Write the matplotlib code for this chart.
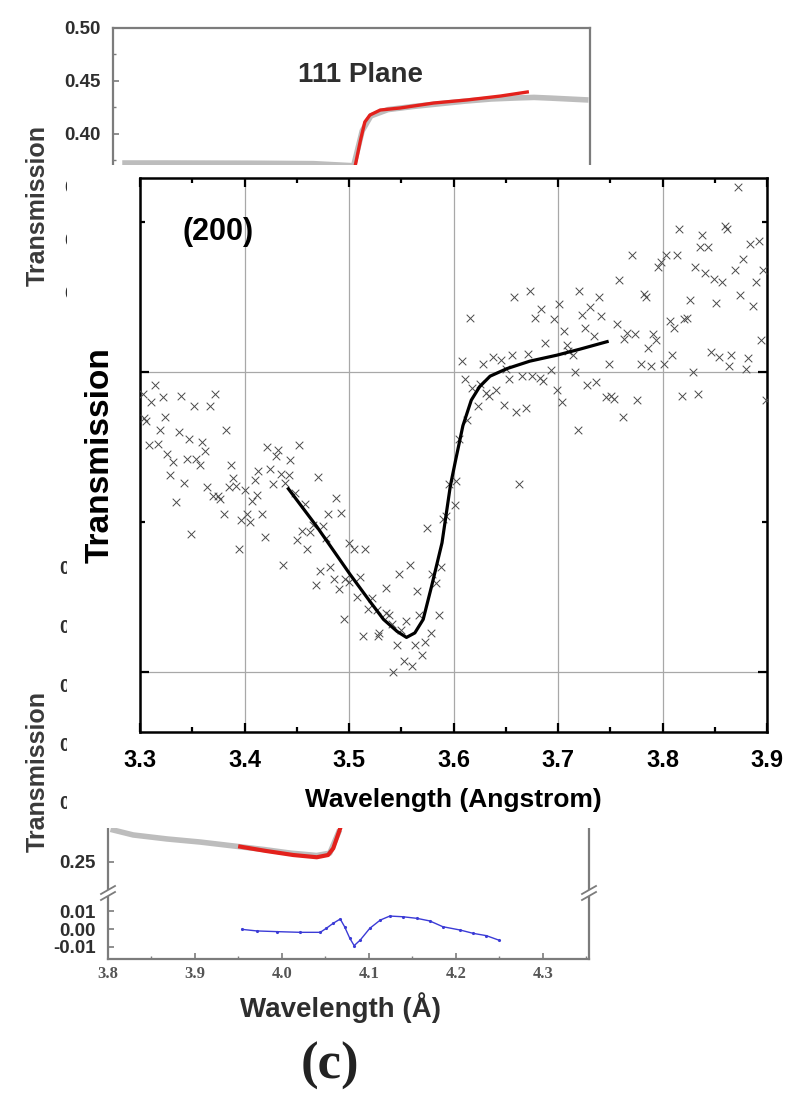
import matplotlib
matplotlib.use("Agg")
import matplotlib.pyplot as plt
from matplotlib.patches import Rectangle
from matplotlib.lines import Line2D
from matplotlib.ticker import MultipleLocator, NullFormatter

plt.rcParams['font.family'] = ['Liberation Sans', 'DejaVu Sans']

# ---------------- (200) reflection: measured points and fitted edge ----------------
wl_200 = [3.314, 3.303, 3.311, 3.322, 3.339, 3.352, 3.367, 3.372, 3.304, 3.306, 3.324, 3.319, 3.337,
          3.347, 3.359, 3.382, 3.309, 3.317, 3.326, 3.345, 3.354, 3.362, 3.422, 3.432, 3.452, 3.430, 3.444,
          3.332, 3.357, 3.329, 3.342, 3.364, 3.370, 3.375, 3.377, 3.387, 3.389, 3.385, 3.392, 3.400, 3.410,
          3.413, 3.424,
          3.435, 3.443, 3.439, 3.427, 3.412, 3.407, 3.417, 3.402, 3.397, 3.405, 3.380, 3.334, 3.349, 3.395,
          3.420, 3.437,
          3.470, 3.488, 3.492, 3.480, 3.475, 3.466, 3.463, 3.455, 3.450, 3.460, 3.458, 3.448, 3.478, 3.500,
          3.505, 3.515, 3.496, 3.500, 3.511, 3.482,
          3.472, 3.486, 3.490, 3.468, 3.508, 3.522, 3.518, 3.527, 3.535, 3.538, 3.541, 3.535, 3.548, 3.558,
          3.555, 3.550, 3.546, 3.563, 3.567, 3.565,
          3.575, 3.579, 3.588, 3.583, 3.586, 3.578, 3.573, 3.570, 3.560, 3.553, 3.542, 3.513, 3.528, 3.529,
          3.495, 3.593, 3.590, 3.601, 3.596, 3.602,
          3.663,
          3.872, 3.860, 3.862, 3.816, 3.838, 3.836, 3.844, 3.884, 3.892, 3.771, 3.803, 3.814, 3.799, 3.796,
          3.831, 3.841, 3.849, 3.857, 3.877, 3.869, 3.889, 3.896,
          3.758, 3.782, 3.784, 3.826, 3.851, 3.874, 3.887, 3.673, 3.658, 3.720, 3.739, 3.701, 3.731, 3.684,
          3.678, 3.696, 3.723, 3.741,
          3.616, 3.706, 3.726, 3.756, 3.734, 3.766, 3.763, 3.774, 3.791, 3.794, 3.786, 3.807, 3.811, 3.821,
          3.823, 3.894,
          3.688, 3.709, 3.710, 3.714, 3.846, 3.854, 3.866, 3.864, 3.882, 3.880, 3.809, 3.801, 3.789, 3.779,
          3.749, 3.829,
          3.608, 3.628, 3.638, 3.645, 3.656, 3.671, 3.650, 3.666, 3.675, 3.683, 3.686, 3.693, 3.653, 3.716,
          3.611, 3.618, 3.625, 3.631, 3.634, 3.641, 3.623, 3.648, 3.660, 3.669, 3.699, 3.704, 3.728, 3.736,
          3.746, 3.751, 3.754, 3.776, 3.762, 3.719, 3.819, 3.834, 3.899, 3.613, 3.605]
tr_200 = [0.8591, 0.8585, 0.8580, 0.8583, 0.8584, 0.8577, 0.8577, 0.8585, 0.8569, 0.8567, 0.8570, 0.8561,
          0.8560, 0.8555, 0.8553, 0.8561, 0.8551, 0.8552, 0.8545, 0.8542, 0.8542, 0.8547, 0.8550, 0.8548,
          0.8551, 0.8544, 0.8541,
          0.8540, 0.8538, 0.8531, 0.8526, 0.8523, 0.8517, 0.8517, 0.8515, 0.8538, 0.8529, 0.8523, 0.8524,
          0.8521, 0.8528, 0.8534, 0.8535,
          0.8532, 0.8531, 0.8526, 0.8525, 0.8518, 0.8514, 0.8505, 0.8505, 0.8501, 0.8500, 0.8505, 0.8513,
          0.8492, 0.8482, 0.8490, 0.8471,
          0.8530, 0.8516, 0.8506, 0.8505, 0.8497, 0.8498, 0.8493, 0.8494, 0.8488, 0.8482, 0.8512, 0.8519,
          0.8489, 0.8486, 0.8482, 0.8482, 0.8462, 0.8460, 0.8463, 0.8470,
          0.8467, 0.8462, 0.8455, 0.8458, 0.8450, 0.8449, 0.8442, 0.8441, 0.8439, 0.8438, 0.8432, 0.8456,
          0.8465, 0.8471, 0.8434, 0.8428, 0.8418, 0.8418, 0.8438, 0.8454,
          0.8496, 0.8465, 0.8470, 0.8459, 0.8438, 0.8426, 0.8420, 0.8411, 0.8404, 0.8407, 0.8400, 0.8424,
          0.8424, 0.8426, 0.8435, 0.8504, 0.8502, 0.8511, 0.8525, 0.8527,
          0.8525,
          0.8723, 0.8697, 0.8695, 0.8695, 0.8691, 0.8683, 0.8683, 0.8685, 0.8687, 0.8678, 0.8678, 0.8678,
          0.8673, 0.8670, 0.8670, 0.8666, 0.8662, 0.8660, 0.8675, 0.8668, 0.8660, 0.8668,
          0.8661, 0.8652, 0.8650, 0.8648, 0.8646, 0.8651, 0.8644, 0.8654, 0.8650, 0.8654, 0.8650, 0.8645,
          0.8643, 0.8642, 0.8636, 0.8635, 0.8638, 0.8637,
          0.8636, 0.8627, 0.8629, 0.8632, 0.8624, 0.8626, 0.8622, 0.8625, 0.8625, 0.8621, 0.8616, 0.8634,
          0.8629, 0.8635, 0.8636, 0.8621,
          0.8619, 0.8618, 0.8614, 0.8611, 0.8613, 0.8610, 0.8611, 0.8604, 0.8609, 0.8602, 0.8611, 0.8605,
          0.8604, 0.8605, 0.8605, 0.8600,
          0.8607, 0.8605, 0.8610, 0.8608, 0.8611, 0.8612, 0.8602, 0.8597, 0.8597, 0.8596, 0.8594, 0.8601,
          0.8595, 0.8600,
          0.8595, 0.8589, 0.8592, 0.8586, 0.8584, 0.8588, 0.8577, 0.8578, 0.8573, 0.8576, 0.8588, 0.8580,
          0.8591, 0.8593, 0.8583, 0.8584, 0.8582, 0.8581, 0.8570, 0.8561, 0.8584, 0.8585, 0.8581, 0.8568,
          0.8555]

fit_wl_200 = [3.442, 3.469, 3.501, 3.520, 3.533, 3.546, 3.555, 3.563, 3.571, 3.579, 3.589, 3.597,
              3.602, 3.609, 3.617, 3.625, 3.635, 3.651, 3.673, 3.699, 3.721, 3.747]
fit_tr_200 = [0.8522, 0.8497, 0.8465, 0.8447, 0.8435, 0.8427, 0.8423, 0.8426, 0.8435, 0.8457, 0.8486,
              0.8524, 0.8541, 0.8564, 0.8581, 0.8590, 0.8597, 0.8602, 0.8607, 0.8611, 0.8615, 0.8620]

xticks_200 = [3.3, 3.4, 3.5, 3.6, 3.7, 3.8, 3.9]
xtick_labels_200 = ['3.3', '3.4', '3.5', '3.6', '3.7', '3.8', '3.9']

# ---------------- 111 plane panel ----------------
wl_111_obs = [3.814, 3.860, 3.910, 3.960, 4.000, 4.033, 4.080, 4.090, 4.100, 4.120, 4.150, 4.180,
              4.210, 4.240, 4.270, 4.290, 4.310, 4.330, 4.350]
tr_111_obs = [0.3726, 0.3726, 0.3725, 0.3724, 0.3722, 0.3720, 0.3700, 0.4030, 0.4170, 0.4230, 0.4260,
              0.4285, 0.4310, 0.4330, 0.4340, 0.4345, 0.4338, 0.4330, 0.4322]
wl_111_fit = [4.076, 4.082, 4.088, 4.093, 4.099, 4.111, 4.134, 4.173, 4.212, 4.251, 4.282]
tr_111_fit = [0.3450, 0.3708, 0.3943, 0.4113, 0.4179, 0.4226, 0.4245, 0.4292, 0.4321, 0.4358, 0.4396]

# ---------------- panel (c) ----------------
wl_c_obs = [3.806, 3.829, 3.868, 3.906, 3.944, 3.980, 4.010, 4.040, 4.055, 4.065]
tr_c_obs = [0.2771, 0.2729, 0.2695, 0.2669, 0.2636, 0.2605, 0.2575, 0.2555, 0.2575, 0.2750]
wl_c_fit = [3.952, 3.982, 4.013, 4.040, 4.053, 4.059, 4.063, 4.067, 4.070]
tr_c_fit = [0.2630, 0.2593, 0.2559, 0.2540, 0.2559, 0.2616, 0.2701, 0.2786, 0.2900]
wl_c_res = [3.954, 3.971, 3.994, 4.021, 4.044, 4.051, 4.059, 4.067, 4.072, 4.078, 4.083, 4.090,
            4.101, 4.113, 4.124, 4.139, 4.155, 4.170, 4.185, 4.205, 4.220, 4.235, 4.249]
res_c = [-0.0002, -0.0011, -0.0015, -0.0019, -0.0019, 0.0004, 0.0033, 0.0057, 0.0013, -0.0053,
         -0.0095, -0.0063, 0.0004, 0.0051, 0.0074, 0.0070, 0.0061, 0.0046, 0.0013, -0.0006, -0.0025,
         -0.0038, -0.0063]

ticks_tr = [0.25, 0.30, 0.35, 0.40, 0.45, 0.50]
ticks_res = [-0.01, 0.00, 0.01]
labels_res = ['-0.01', '0.00', '0.01']
xticks_c = [3.8, 3.9, 4.0, 4.1, 4.2, 4.3]

W, H = 787, 1094
fig = plt.figure(figsize=(W / 100, H / 100), dpi=100)


def frame(x0, y0, x1, y1):
    return [x0 / W, 1 - y1 / H, (x1 - x0) / W, (y1 - y0) / H]


TXT = '#2e2e2e'
AXC = '#7c7c7c'
CARD_LEFT = 67   # left edge of the white card carrying the (200) plot


def style_back(ax):
    for s in ax.spines.values():
        s.set_color(AXC)
        s.set_linewidth(1.6)
    ax.tick_params(which='both', direction='in', color=AXC, labelcolor=TXT, pad=9)
    ax.tick_params(which='major', length=4, width=1.2)
    ax.tick_params(which='minor', length=2.5, width=1.0)


def tr_axis(ax, ticks, labels, size=13.5):
    ax.set_yticks(ticks, labels=labels, fontweight='bold', fontsize=size)


# ---- top panel: 111 plane ----
ax_t = fig.add_axes(frame(113, 28, 590, 330))
ax_t.plot(wl_111_obs, tr_111_obs, color='#bdbdbd', lw=4)
ax_t.plot(wl_111_fit, tr_111_fit, color='#e3211c', lw=2.4)
ax_t.set_xlim(3.8, 4.355)
ax_t.set_ylim(0.215, 0.50)
style_back(ax_t)
tr_axis(ax_t, ticks_tr, ['%.2f' % v for v in ticks_tr])
ax_t.yaxis.set_minor_locator(MultipleLocator(0.025))
ax_t.set_xticks([])
ax_t.spines['bottom'].set_visible(False)
ax_t.text(0.518, 0.844, '111 Plane', transform=ax_t.transAxes, ha='center', va='center',
          fontsize=20, fontweight='bold', color=TXT)

fig.text(38 / W, 1 - 205 / H, 'Transmission', rotation=90, ha='center', va='center',
         fontsize=18, fontweight='bold', color='#3a3a3a')

# ---- bottom panel (c) ----
ax_b = fig.add_axes(frame(108, 560, 589, 893))
ax_b.plot(wl_c_obs, tr_c_obs, color='#bdbdbd', lw=4)
ax_b.plot(wl_c_fit, tr_c_fit, color='#e3211c', lw=3)
ax_b.set_xlim(3.8, 4.353)
ax_b.set_ylim(0.2237, 0.506)
style_back(ax_b)
tr_axis(ax_b, ticks_tr, ['%.2f' % v for v in ticks_tr])
ax_b.set_xticks([])
ax_b.spines['bottom'].set_visible(False)

ax_r = fig.add_axes(frame(108, 893, 589, 959))
ax_r.plot(wl_c_res, res_c, color='#3b3bd6', lw=1.0, marker='.', ms=2.5)
ax_r.set_xlim(3.8, 4.353)
ax_r.set_ylim(-0.01714, 0.02057)
style_back(ax_r)
tr_axis(ax_r, ticks_res, labels_res)
ax_r.set_xticks(xticks_c, labels=['%.1f' % v for v in xticks_c], family='Liberation Serif',
                fontweight='bold', fontsize=12, color='#555555')
ax_r.xaxis.set_minor_locator(MultipleLocator(0.05))
ax_r.tick_params(axis='x', pad=5)
ax_r.spines['top'].set_visible(False)
ax_r.set_xlabel('Wavelength (Å)', fontsize=20, fontweight='bold', color=TXT)
ax_r.xaxis.set_label_coords((340 - 108) / 481, -(1008 - 959) / 66)
ax_r.xaxis.label.set_va('center')

fig.text(38 / W, 1 - 771 / H, 'Transmission', rotation=90, ha='center', va='center',
         fontsize=18, fontweight='bold', color='#3a3a3a')
fig.text(330 / W, 1 - 1066 / H, '(c)', ha='center', va='center', family='Liberation Serif',
         fontsize=38, fontweight='bold', color='#222222')


def axis_break(x, y):
    fig.add_artist(Rectangle(((x - 7) / W, 1 - (y + 3) / H), 14 / W, 6 / H,
                             transform=fig.transFigure, facecolor='white', edgecolor='none', zorder=3))
    for dy in (-3, 3):
        fig.add_artist(Line2D([(x - 7) / W, (x + 7) / W], [1 - (y + dy + 4) / H, 1 - (y + dy - 4) / H],
                              transform=fig.transFigure, color=AXC, lw=1.3, zorder=4))


axis_break(108, 893)
axis_break(589, 893)

# ---- (200) plot on a white card in front ----
fig.add_artist(Rectangle((CARD_LEFT / W, 1 - 828 / H), (W - CARD_LEFT) / W, 663 / H,
                         transform=fig.transFigure, facecolor='white', edgecolor='none', zorder=5))

ax = fig.add_axes(frame(140, 178, 767, 732))
ax.set_zorder(6)
ax.set_axisbelow(True)
ax.grid(True, which='major', color='#a8a8a8', lw=0.9)
ax.scatter(wl_200, tr_200, marker='x', s=30, c='#4a4a4a', linewidths=0.7, zorder=3)
ax.plot(fit_wl_200, fit_tr_200, color='black', lw=2.3, zorder=4, solid_joinstyle='round')
ax.set_xlim(3.3, 3.9)
ax.set_ylim(0.836, 0.8729)
ax.set_xticks(xticks_200, labels=xtick_labels_200, fontsize=17, fontweight='bold')
ax.xaxis.set_minor_locator(MultipleLocator(0.05))
ax.yaxis.set_major_locator(MultipleLocator(0.02))
ax.yaxis.set_minor_locator(MultipleLocator(0.01))
ax.yaxis.set_major_formatter(NullFormatter())
ax.tick_params(which='both', direction='in', top=True, right=True, width=1.6, color='black')
ax.tick_params(which='major', length=6.5)
ax.tick_params(which='minor', length=3.5)
ax.tick_params(axis='x', pad=12)
for s in ax.spines.values():
    s.set_linewidth(1.8)
ax.text(0.124, 0.9025, '(200)', transform=ax.transAxes, ha='center', va='center',
        fontsize=22, fontweight='bold')
ax.set_xlabel('Wavelength (Angstrom)', fontsize=19, fontweight='bold')
ax.xaxis.set_label_coords(0.5, -0.1227)
ax.xaxis.label.set_va('center')
ax.set_ylabel('Transmission', fontsize=24, fontweight='bold')
ax.yaxis.set_label_coords(-0.064, 0.5)
ax.yaxis.label.set_va('center')

fig.savefig('out.png', dpi=100)
